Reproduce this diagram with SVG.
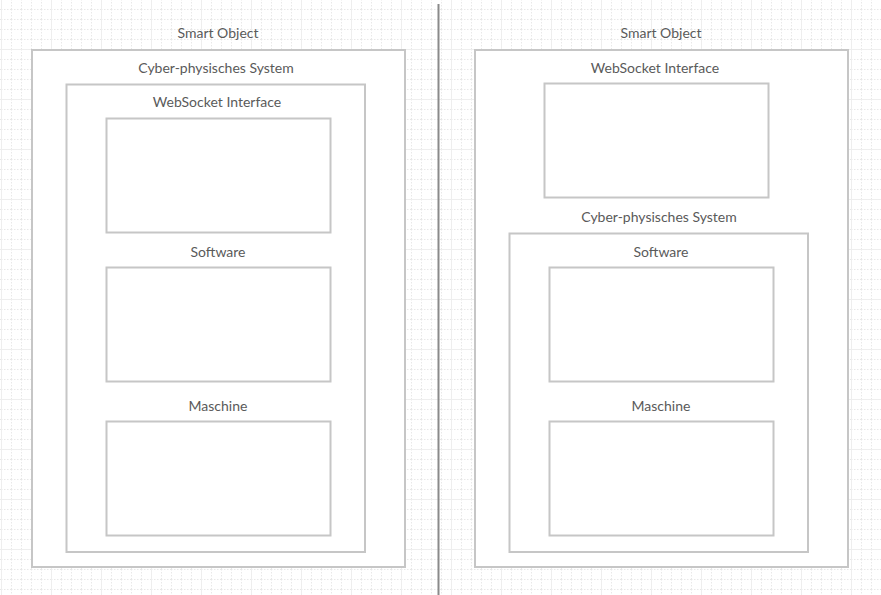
<svg xmlns="http://www.w3.org/2000/svg" width="881" height="595" viewBox="0 0 881 595">
<defs>
<pattern id="gs" x="1" y="9" width="10" height="10" patternUnits="userSpaceOnUse">
<path d="M0.5 0V10M0 0.5H10" fill="none" stroke="#e8e8e8" stroke-width="1" stroke-dasharray="1.5 1.5"/>
</pattern>
<pattern id="gl" x="1" y="-1" width="50" height="50" patternUnits="userSpaceOnUse">
<path d="M0.5 0V50M0 0.5H50" fill="none" stroke="#eeeeee" stroke-width="1"/>
</pattern>
<style>
.box{fill:#ffffff;stroke:#c6c6c6;stroke-width:2}
.lbl{font-family:Lato,"Open Sans",sans-serif;font-size:14px;fill:#5a5a5a;text-anchor:middle}
</style>
</defs>
<rect width="881" height="595" fill="#ffffff"/>
<rect width="881" height="595" fill="url(#gs)"/>
<rect width="881" height="595" fill="url(#gl)"/>
<g id="connectors">
<line x1="438.5" y1="4" x2="438.5" y2="595" stroke="#8a8a8a" stroke-width="2"/>
</g>
<g id="left-smart-object">
<text class="lbl" x="218" y="38">Smart Object</text>
<rect class="box" x="32" y="50" width="373" height="517"/>
</g>
<g id="left-cps">
<text class="lbl" x="216" y="73">Cyber-physisches System</text>
<rect class="box" x="66.5" y="84.5" width="298.5" height="467.5"/>
</g>
<g id="left-websocket">
<text class="lbl" x="217" y="107">WebSocket Interface</text>
<rect class="box" x="106.5" y="118.5" width="224" height="114"/>
</g>
<g id="left-software">
<text class="lbl" x="218" y="257">Software</text>
<rect class="box" x="106.5" y="267.5" width="224" height="114"/>
</g>
<g id="left-maschine">
<text class="lbl" x="218" y="411">Maschine</text>
<rect class="box" x="106.5" y="421.5" width="224" height="114"/>
</g>
<g id="right-smart-object">
<text class="lbl" x="661" y="38">Smart Object</text>
<rect class="box" x="475" y="50" width="373" height="517"/>
</g>
<g id="right-websocket">
<text class="lbl" x="655" y="73">WebSocket Interface</text>
<rect class="box" x="544.5" y="83.5" width="224" height="114"/>
</g>
<g id="right-cps">
<text class="lbl" x="659" y="222">Cyber-physisches System</text>
<rect class="box" x="509.5" y="233.5" width="298.5" height="318.5"/>
</g>
<g id="right-software">
<text class="lbl" x="661" y="257">Software</text>
<rect class="box" x="549.5" y="267.5" width="224" height="114"/>
</g>
<g id="right-maschine">
<text class="lbl" x="661" y="411">Maschine</text>
<rect class="box" x="549.5" y="421.5" width="224" height="114"/>
</g>
</svg>
